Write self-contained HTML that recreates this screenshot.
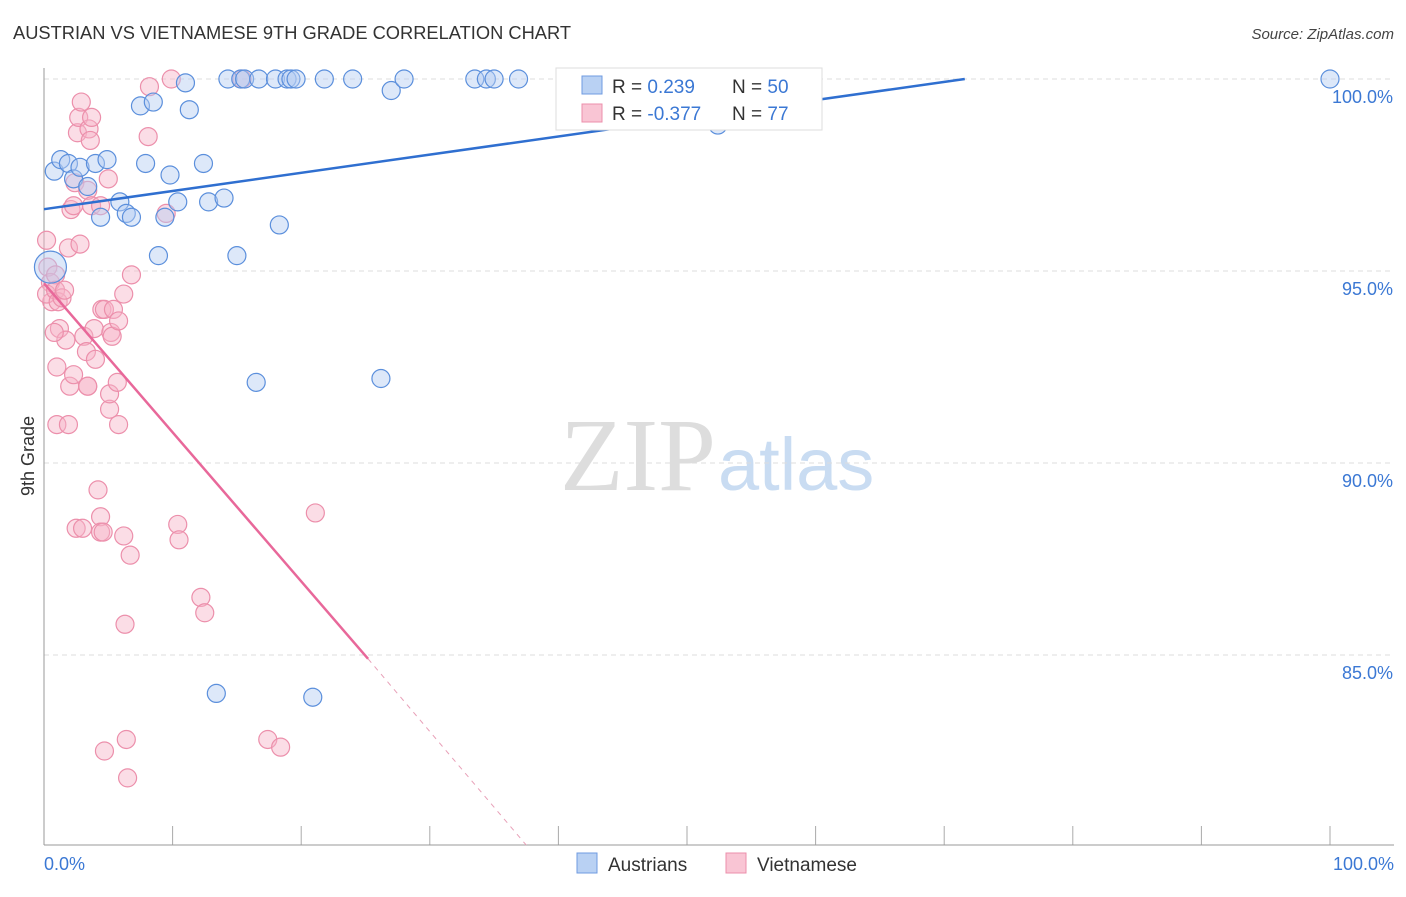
<!DOCTYPE html>
<html><head><meta charset="utf-8"><style>
body{margin:0;background:#fff;font-family:"Liberation Sans",sans-serif}
</style></head><body>
<svg id="chart" width="1406" height="892" xmlns="http://www.w3.org/2000/svg" font-family="Liberation Sans, sans-serif">
<text x="13" y="39" font-size="18.3" fill="#333">AUSTRIAN VS VIETNAMESE 9TH GRADE CORRELATION CHART</text>
<text x="1394" y="39" font-size="15" fill="#444" text-anchor="end" font-style="italic">Source: ZipAtlas.com</text>
<text x="716" y="490" font-size="104" text-anchor="end" fill="#ddd" font-family="Liberation Serif, serif">ZIP</text>
<text x="718" y="490" font-size="74" fill="#c9dcf2">atlas</text>
<g id="grid"></g>
<line x1="44" y1="68" x2="44" y2="845" stroke="#999"/>
<line x1="44" y1="845" x2="1394" y2="845" stroke="#999"/>
<text transform="translate(34,456) rotate(-90)" font-size="18" fill="#333" text-anchor="middle">9th Grade</text>
<text x="44" y="870" font-size="18" fill="#3b78d4">0.0%</text>
<text x="1394" y="870" font-size="18" fill="#3b78d4" text-anchor="end">100.0%</text>
<g id="pts"></g>
<g id="lines"></g>
<g>
<rect x="556" y="68" width="266" height="62" fill="#fff" stroke="#ddd"/>
<rect x="582" y="76" width="20" height="18" fill="#b9d1f3" stroke="#6f9be0"/>
<rect x="582" y="104" width="20" height="18" fill="#f9c5d4" stroke="#ec8fab"/>
<text x="612" y="93" font-size="19" fill="#333">R = <tspan fill="#3b78d4">0.239</tspan><tspan x="732">N = </tspan><tspan fill="#3b78d4">50</tspan></text>
<text x="612" y="120" font-size="19" fill="#333">R = <tspan fill="#3b78d4">-0.377</tspan><tspan x="732">N = </tspan><tspan fill="#3b78d4">77</tspan></text>
</g>
<g><rect x="577" y="853" width="20" height="20" fill="#b9d1f3" stroke="#6f9be0"/><text x="608" y="871" font-size="19" fill="#333">Austrians</text></g>
<g><rect x="726" y="853" width="20" height="20" fill="#f9c5d4" stroke="#ec8fab"/><text x="757" y="871" font-size="19" fill="#333">Vietnamese</text></g>
</svg>
<script>
const yTicks=[100,95,90,85];
const xTicks=[0,10,20,30,40,50,60,70,80,90,100];
const blueX=[0.8,1.3,1.9,2.3,2.8,3.4,4.0,4.4,4.9,5.9,6.4,6.8,7.5,7.9,8.5,8.9,9.4,9.8,10.4,11.0,11.3,12.4,12.8,14.0,14.3,15.0,15.3,15.6,16.7,16.5,18.0,18.3,18.9,19.2,19.6,13.4,20.9,21.8,24.0,26.2,27.0,28.0,33.5,34.4,35.0,36.9,41.4,52.4,100,0.5];
const blueY=[97.6,97.9,97.8,97.4,97.7,97.2,97.8,96.4,97.9,96.8,96.5,96.4,99.3,97.8,99.4,95.4,96.4,97.5,96.8,99.9,99.2,97.8,96.8,96.9,100,95.4,100,100,100,92.1,100,96.2,100,100,100,84.0,83.9,100,100,92.2,99.7,100,100,100,100,100,100,98.8,100,95.1];
const pinkX=[0.2,0.3,0.5,0.6,0.2,0.9,0.9,1.1,1.2,1.4,1.6,1.0,1.7,1.9,2.0,2.1,2.3,2.3,2.4,2.5,2.6,2.7,2.8,2.9,3.0,3.1,3.3,3.4,3.4,3.5,3.6,3.7,3.7,3.9,4.0,4.2,4.4,4.4,4.5,4.6,4.7,4.7,5.0,5.1,5.1,5.2,5.3,5.4,5.7,5.8,5.8,6.2,6.2,6.3,6.4,6.5,6.7,6.8,8.1,8.2,9.5,9.9,10.4,10.5,12.2,12.5,15.4,17.4,18.4,21.1,1.0,1.9,0.8,4.4,3.4];
const pinkY=[95.8,95.1,94.7,94.2,94.4,94.9,94.5,94.2,93.5,94.3,94.5,92.5,93.2,95.6,92.0,96.6,92.3,96.7,97.3,88.3,98.6,99.0,95.7,99.4,88.3,93.3,92.9,97.1,92.0,98.7,98.4,96.7,99.0,93.5,92.7,89.3,88.6,88.2,94.0,88.2,82.5,94.0,97.4,91.4,91.8,93.4,93.3,94.0,92.1,93.7,91.0,94.4,88.1,85.8,82.8,81.8,87.6,94.9,98.5,99.8,96.5,100,88.4,88.0,86.5,86.1,100,82.8,82.6,88.7,91.0,91.0,93.4,96.7,92.0];
const ns="http://www.w3.org/2000/svg";
const X=v=>44+v*12.86, Y=v=>79+(100-v)*38.4;
const grid=document.getElementById('grid'),pts=document.getElementById('pts'),lines=document.getElementById('lines');
yTicks.forEach(t=>{
 const l=document.createElementNS(ns,'line');
 
 
 l.setAttribute('x1',44);l.setAttribute('x2',1394);l.setAttribute('y1',Y(t));l.setAttribute('y2',Y(t));
 l.setAttribute('stroke','#ddd');l.setAttribute('stroke-dasharray','5,4');grid.appendChild(l);
 const tx=document.createElementNS(ns,'text');
 
 
 tx.setAttribute('x',1393);tx.setAttribute('y',Y(t)+24);tx.setAttribute('text-anchor','end');
 tx.setAttribute('font-size','18');tx.setAttribute('fill','#3b78d4');tx.textContent=t.toFixed(1)+'%';grid.appendChild(tx);
});
xTicks.forEach(t=>{
 const l=document.createElementNS(ns,'line');
 
 
 l.setAttribute('x1',X(t));l.setAttribute('x2',X(t));l.setAttribute('y1',826);l.setAttribute('y2',845);
 l.setAttribute('stroke','#aaa');grid.appendChild(l);
});
function dots(xs,ys,fill,stroke,name){
 xs.forEach((x,i)=>{
  const c=document.createElementNS(ns,'circle');
  
  
  c.setAttribute('cx',X(x));c.setAttribute('cy',Y(ys[i]));
  c.setAttribute('r',(name==='austrian-point'&&i===xs.length-1)?16:9);
  c.setAttribute('fill',fill);c.setAttribute('fill-opacity','0.45');c.setAttribute('stroke',stroke);c.setAttribute('stroke-width','1.2');
  pts.appendChild(c);
 });
}
dots(pinkX,pinkY,'#f7b3c7','#ec8fab','vietnamese-point');
dots(blueX,blueY,'#b3cdf2','#5b8fdc','austrian-point');
function ln(x1,y1,x2,y2,col,w,dash,name){
 const l=document.createElementNS(ns,'line');
 
 
 l.setAttribute('x1',X(x1));l.setAttribute('y1',Y(y1));l.setAttribute('x2',X(x2));l.setAttribute('y2',Y(y2));
 l.setAttribute('stroke',col);l.setAttribute('stroke-width',w);if(dash)l.setAttribute('stroke-dasharray',dash);
 lines.appendChild(l);
}
ln(0,96.61,71.6,100,'#2f6fd0',2.5,null,'austrian-trend-line');
ln(0,94.68,25.2,84.9,'#e8689a',2.5,null,'vietnamese-trend-line');
ln(25.2,84.9,37.5,80.05,'#e8a0b8',1,'5,5','vietnamese-trend-extension');
</script>
</body></html>
